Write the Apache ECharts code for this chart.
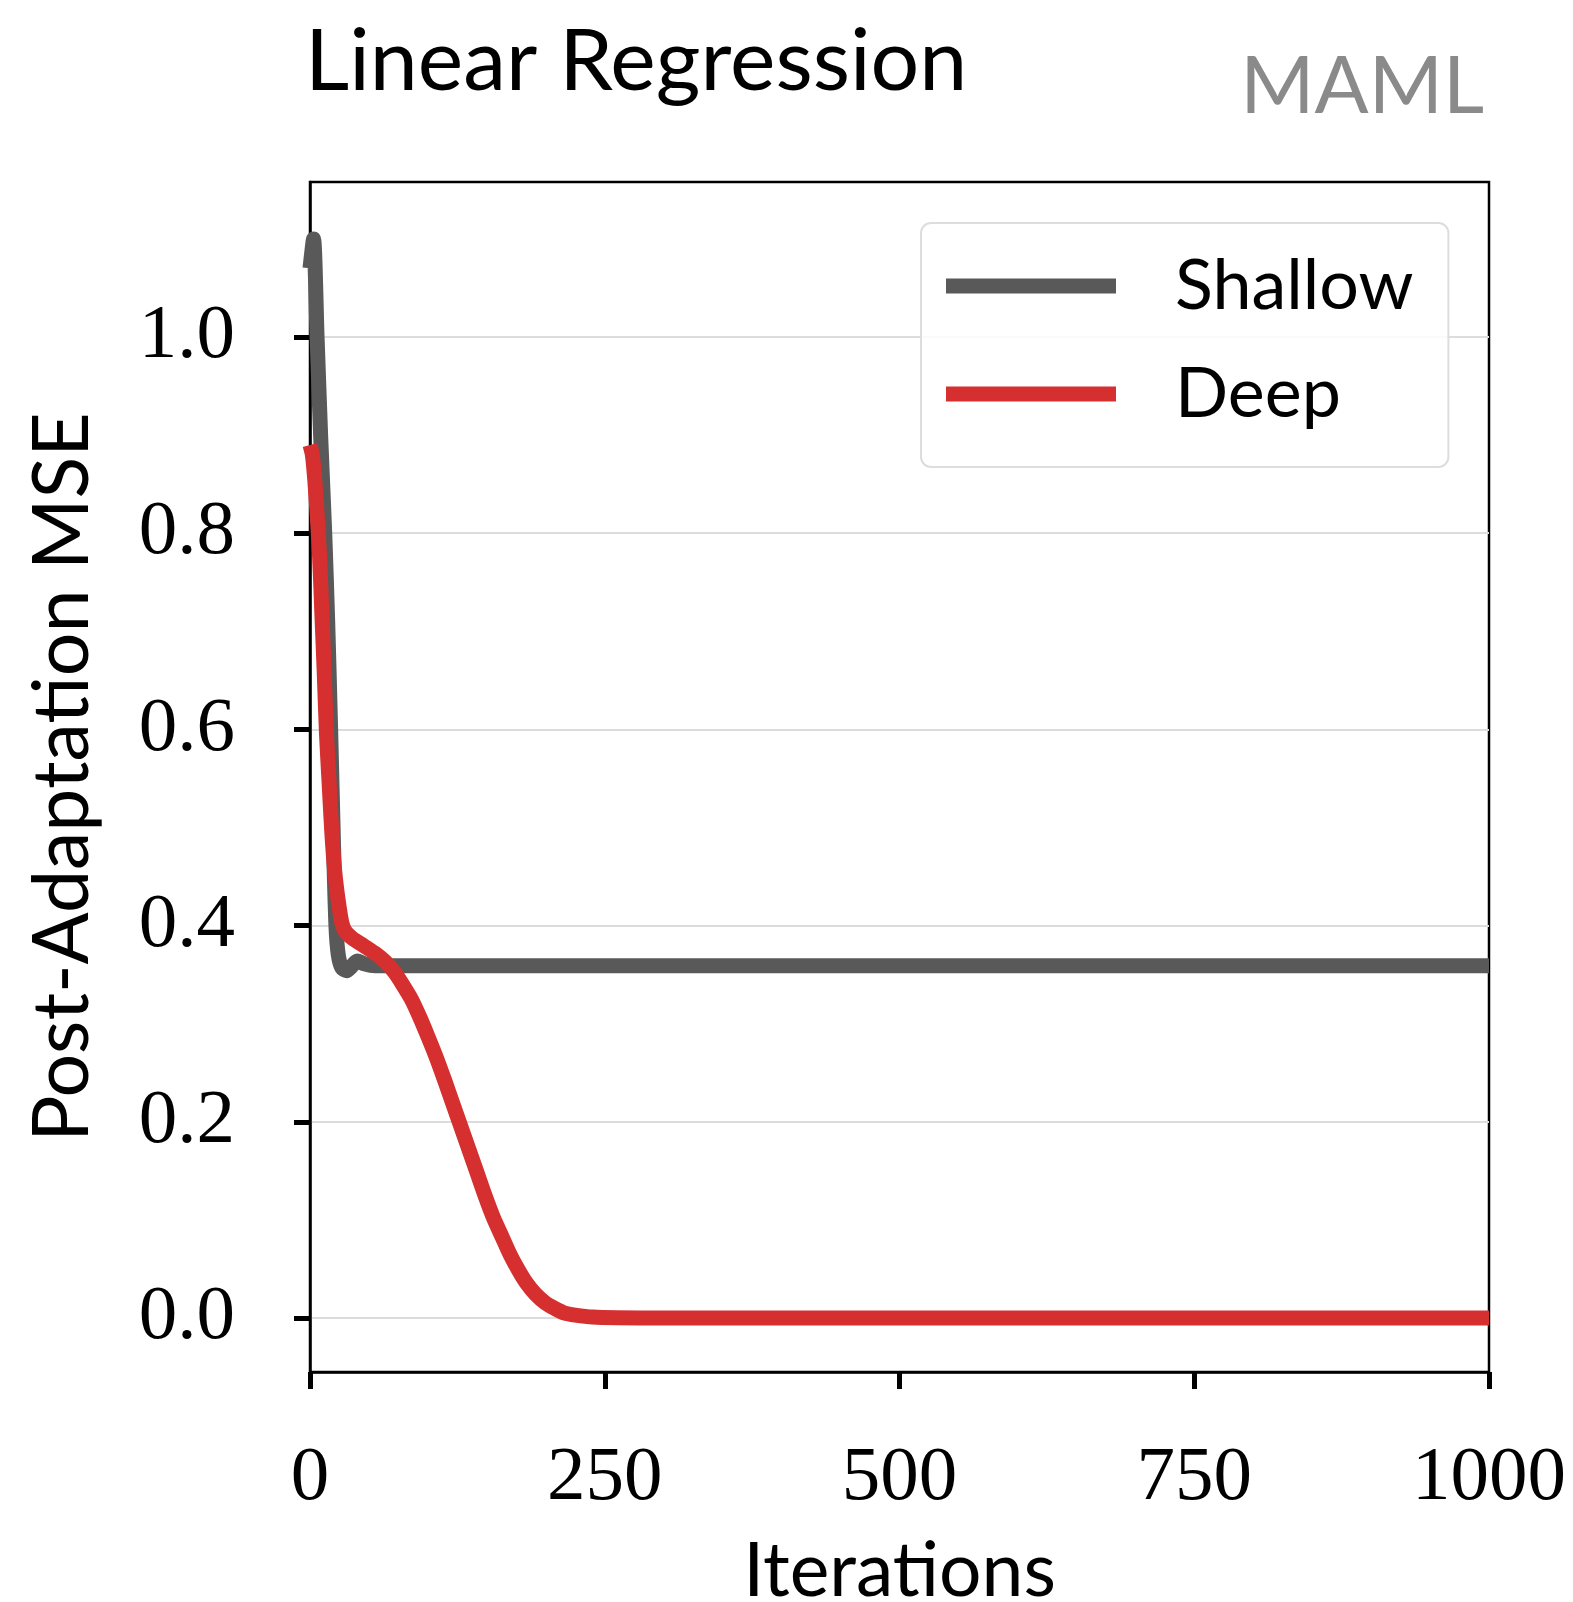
<!DOCTYPE html>
<html>
<head>
<meta charset="utf-8">
<script src="https://cdn.jsdelivr.net/npm/echarts@6/dist/echarts.min.js"></script>
<style>
  html, body { margin: 0; padding: 0; background: #fff; }
  #chart { width: 1573px; height: 1602px; }
</style>
</head>
<body>
<div id="chart"></div>
<script>
// Post-adaptation MSE over training iterations (MAML, linear regression)
const chartTitle = 'Linear Regression';
const methodTag = 'MAML';
const xTicks = [0, 250, 500, 750, 1000];
const yTicks = [0.0, 0.2, 0.4, 0.6, 0.8, 1.0];

// [iteration, MSE]
const shallowMSE = [
  [0, 1.07], [3, 1.10], [6, 1.0], [9, 0.9], [12.5, 0.8], [15, 0.71],
  [17.5, 0.6], [20, 0.48], [22, 0.40], [24, 0.37], [27, 0.357],
  [31, 0.354], [35, 0.358], [40, 0.364], [46, 0.361], [55, 0.359],
  [100, 0.359], [1000, 0.359]
];
const deepMSE = [
  [0, 0.89], [2, 0.88], [4, 0.855], [6, 0.82], [8, 0.78], [10, 0.72],
  [12, 0.66], [14, 0.595], [16, 0.55], [18.5, 0.495], [21, 0.455],
  [24, 0.425], [27, 0.403], [30, 0.394], [36, 0.387], [45, 0.38],
  [55, 0.372], [64, 0.363], [72, 0.352], [78, 0.341], [86, 0.325],
  [93, 0.307], [100, 0.287], [107, 0.266], [114, 0.243], [121, 0.219],
  [128, 0.195], [135, 0.171], [142, 0.147], [149, 0.123], [156, 0.101],
  [163, 0.0825], [170, 0.064], [177, 0.0485], [184, 0.035], [191, 0.0248],
  [200, 0.015], [208, 0.0095], [216, 0.005], [225, 0.003], [240, 0.001],
  [260, 0.0003], [300, 0], [1000, 0]
];

const sansFont = 'Lato';
const serifFont = 'Liberation Serif';

const chart = echarts.init(document.getElementById('chart'), null, { renderer: 'canvas' });

chart.setOption({
  backgroundColor: '#ffffff',
  animation: false,
  title: [
    {
      text: chartTitle,
      left: 300,
      top: 14,
      textStyle: { fontFamily: sansFont, fontWeight: 'normal', fontSize: 86, color: '#000' }
    },
    {
      text: methodTag,
      right: 84,
      top: 42,
      textStyle: { fontFamily: sansFont, fontWeight: 'normal', fontSize: 80, color: '#8a8a8a' }
    }
  ],
  legend: {
    orient: 'vertical',
    left: 921,
    top: 223,
    padding: [18, 35, 28, 25],
    itemGap: 18,
    itemWidth: 170,
    itemHeight: 15,
    icon: 'rect',
    backgroundColor: 'rgba(255,255,255,0.85)',
    borderColor: '#dddddd',
    borderWidth: 2,
    borderRadius: 10,
    textStyle: {
      fontFamily: sansFont,
      fontSize: 70,
      lineHeight: 90,
      color: '#000',
      padding: [0, 0, 0, 54]
    },
    data: ['Shallow', 'Deep']
  },
  grid: {
    left: 310,
    top: 182,
    width: 1179,
    height: 1190,
    outerBoundsMode: 'none',
    containLabel: false,
    show: true,
    borderColor: '#000',
    borderWidth: 2.5,
    backgroundColor: 'transparent'
  },
  xAxis: {
    type: 'value',
    min: 0,
    max: 1000,
    interval: 250,
    name: 'Iterations',
    nameLocation: 'middle',
    nameGap: 162,
    nameTextStyle: { fontFamily: sansFont, fontSize: 75, color: '#000' },
    axisLine: { show: true, onZero: false, lineStyle: { color: '#000', width: 2.5 } },
    axisTick: { show: true, inside: false, length: 17, lineStyle: { color: '#000', width: 5 } },
    axisLabel: {
      margin: 68,
      fontFamily: serifFont,
      fontSize: 77,
      color: '#000',
      showMinLabel: true,
      showMaxLabel: true,
      customValues: xTicks,
      formatter: v => String(v)
    },
    splitLine: { show: false }
  },
  yAxis: {
    type: 'value',
    min: -0.055,
    max: 1.158,
    name: 'Post-Adaptation MSE',
    nameLocation: 'middle',
    nameGap: 208,
    nameTextStyle: { fontFamily: sansFont, fontSize: 77, color: '#000' },
    axisLine: { show: true, onZero: false, lineStyle: { color: '#000', width: 2.5 } },
    axisTick: { show: true, inside: false, length: 16, lineStyle: { color: '#000', width: 5 }, customValues: yTicks },
    axisLabel: {
      margin: 75,
      fontFamily: serifFont,
      fontSize: 77,
      color: '#000',
      padding: [14, 0, 0, 0],
      customValues: yTicks,
      formatter: v => v.toFixed(1)
    },
    splitLine: { show: true, lineStyle: { color: '#dcdcdc', width: 2 } }
  },
  series: [
    {
      name: 'Shallow',
      type: 'line',
      data: shallowMSE,
      showSymbol: false,
      smooth: 0.25,
      lineStyle: { color: '#595959', width: 15, cap: 'butt', join: 'round' },
      itemStyle: { color: '#595959' },
      z: 2
    },
    {
      name: 'Deep',
      type: 'line',
      data: deepMSE,
      showSymbol: false,
      smooth: 0.25,
      lineStyle: { color: '#d62f2f', width: 15, cap: 'butt', join: 'round' },
      itemStyle: { color: '#d62f2f' },
      z: 3
    }
  ]
});
</script>
</body>
</html>
